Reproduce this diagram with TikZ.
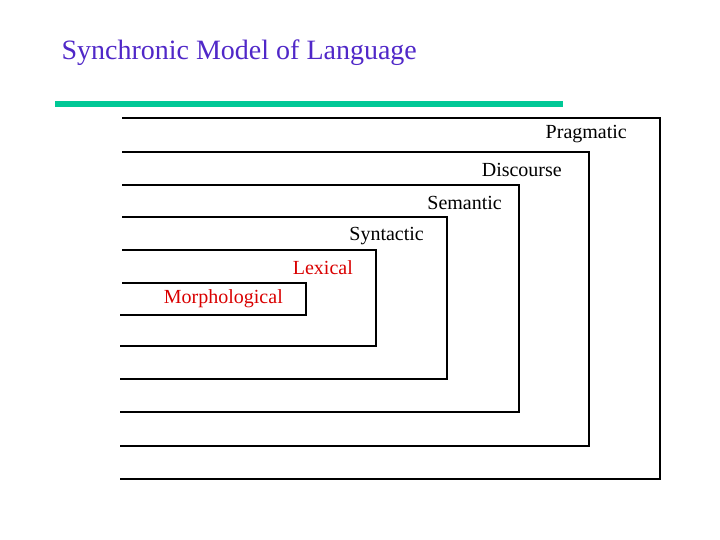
\documentclass[tikz,border=0pt]{standalone}
\usepackage{fontspec}
\setmainfont{Liberation Serif}
\begin{document}
\begin{tikzpicture}[x=1pt,y=-1pt,
  brk/.style={line width=2.6pt},
  lab/.style={anchor=south east,inner sep=1pt,font=\fontsize{20}{24}\selectfont}]
\useasboundingbox (0,0) rectangle (720,540);
\node[anchor=west,text={rgb,255:red,80;green,40;blue,200},font=\fontsize{28}{32}\selectfont] (title) at (58,53) {Synchronic Model of Language};
\coordinate (tl) at (55,104); \coordinate (tr) at (563,104);
\draw[line width=6pt,color={rgb,255:red,0;green,200;blue,150}] (tl) -- (tr);
\foreach \t/\r/\b in {118/660/479,152/589/446,185/519/412,217/447/379,250/376/346,283/306/315}{
  \draw[brk] (122,\t) -- (\r,\t) -- (\r,\b) -- (120,\b);
}
\node[lab] (p) at (628,144) {Pragmatic};
\node[lab] (d) at (563,178) {Discourse};
\node[lab] (s) at (503,211) {Semantic};
\node[lab] (sy) at (425,246) {Syntactic};
\node[lab,text=red!85!black] (l) at (354,276) {Lexical};
\node[lab,text=red!85!black] (m) at (284,309) {Morphological};
\end{tikzpicture}
\end{document}
